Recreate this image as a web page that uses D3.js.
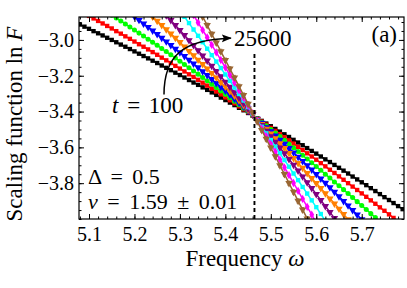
<!DOCTYPE html>
<html>
<head>
<meta charset="utf-8">
<script src="https://cdn.jsdelivr.net/npm/d3@7"></script>
<style>
  body { margin: 0; background: #fff; }
  svg { display: block; font-family: "Liberation Serif", "DejaVu Serif", serif; }
</style>
</head>
<body>
<div id="chart"></div>
<script>
// frequency grid (x values)
var omega = [5.08,5.09,5.10,5.11,5.12,5.13,5.14,5.15,5.16,5.17,5.18,5.19,5.20,5.21,5.22,5.23,5.24,5.25,5.26,5.27,
  5.28,5.29,5.30,5.31,5.32,5.33,5.34,5.35,5.36,5.37,5.38,5.39,5.40,5.41,5.42,5.43,5.44,5.45,5.46,5.47,
  5.48,5.49,5.50,5.51,5.52,5.53,5.54,5.55,5.56,5.57,5.58,5.59,5.60,5.61,5.62,5.63,5.64,5.65,5.66,5.67,
  5.68,5.69,5.70,5.71,5.72,5.73,5.74,5.75,5.76,5.77,5.78,5.79];

var times = [100, 200, 400, 800, 1600, 3200, 6400, 12800, 25600];
// first frequency of each series
var seriesStart = [5.08, 5.10, 5.15, 5.20, 5.24, 5.27, 5.31, 5.33, 5.35];

// ln F values, one array per t
var lnF_100 = [-2.914,-2.926,-2.938,-2.951,-2.963,-2.975,-2.988,-3.000,-3.013,-3.026,
  -3.038,-3.051,-3.064,-3.077,-3.090,-3.103,-3.116,-3.129,-3.143,-3.156,
  -3.169,-3.183,-3.196,-3.210,-3.224,-3.238,-3.251,-3.265,-3.279,-3.293,
  -3.307,-3.322,-3.336,-3.350,-3.364,-3.379,-3.393,-3.408,-3.423,-3.437,
  -3.452,-3.467,-3.482,-3.497,-3.512,-3.527,-3.542,-3.558,-3.573,-3.588,
  -3.604,-3.620,-3.635,-3.651,-3.667,-3.682,-3.698,-3.714,-3.730,-3.746,
  -3.763,-3.779,-3.795,-3.811,-3.828,-3.844,-3.861,-3.878,-3.894,-3.911,-3.928,-3.945];
var lnF_200 = [-2.866,-2.880,-2.894,-2.908,-2.922,-2.936,-2.951,-2.965,-2.980,-2.994,
  -3.009,-3.024,-3.038,-3.053,-3.068,-3.083,-3.099,-3.114,-3.129,-3.145,
  -3.160,-3.176,-3.192,-3.207,-3.223,-3.239,-3.255,-3.272,-3.288,-3.304,
  -3.321,-3.337,-3.354,-3.371,-3.388,-3.404,-3.421,-3.439,-3.456,-3.473,
  -3.491,-3.508,-3.526,-3.543,-3.561,-3.579,-3.597,-3.615,-3.633,-3.651,
  -3.669,-3.688,-3.706,-3.725,-3.743,-3.762,-3.781,-3.800,-3.819,-3.838,
  -3.857,-3.876,-3.896,-3.915,-3.935,-3.954,-3.974,-3.994,-4.014];
var lnF_400 = [-2.862,-2.878,-2.894,-2.911,-2.928,-2.945,-2.962,-2.978,-2.996,-3.013,
  -3.030,-3.048,-3.065,-3.083,-3.101,-3.119,-3.137,-3.155,-3.173,-3.191,
  -3.210,-3.228,-3.247,-3.266,-3.285,-3.304,-3.323,-3.342,-3.362,-3.381,
  -3.400,-3.420,-3.440,-3.460,-3.480,-3.500,-3.520,-3.540,-3.561,-3.581,
  -3.602,-3.623,-3.644,-3.665,-3.686,-3.707,-3.728,-3.750,-3.771,-3.793,
  -3.814,-3.836,-3.858,-3.880,-3.903,-3.925,-3.947,-3.970,-3.992,-4.015];
var lnF_800 = [-2.869,-2.889,-2.909,-2.928,-2.948,-2.968,-2.989,-3.009,-3.029,-3.050,
  -3.070,-3.091,-3.112,-3.133,-3.154,-3.176,-3.197,-3.219,-3.241,-3.262,
  -3.284,-3.306,-3.329,-3.351,-3.373,-3.396,-3.419,-3.441,-3.464,-3.488,
  -3.511,-3.534,-3.558,-3.581,-3.605,-3.629,-3.653,-3.677,-3.701,-3.725,
  -3.750,-3.775,-3.799,-3.824,-3.849,-3.874,-3.900,-3.925,-3.951,-3.976,-4.002];
var lnF_1600 = [-2.871,-2.894,-2.918,-2.941,-2.965,-2.989,-3.013,-3.037,-3.062,-3.086,
  -3.111,-3.135,-3.160,-3.185,-3.210,-3.236,-3.261,-3.287,-3.312,-3.338,
  -3.364,-3.391,-3.417,-3.443,-3.470,-3.497,-3.523,-3.550,-3.578,-3.605,
  -3.632,-3.660,-3.688,-3.715,-3.744,-3.772,-3.800,-3.828,-3.857,-3.886,
  -3.914,-3.943,-3.973,-4.002];
var lnF_3200 = [-2.863,-2.890,-2.918,-2.946,-2.974,-3.002,-3.030,-3.059,-3.088,-3.116,
  -3.145,-3.175,-3.204,-3.234,-3.263,-3.293,-3.323,-3.354,-3.384,-3.415,
  -3.445,-3.476,-3.508,-3.539,-3.570,-3.602,-3.634,-3.666,-3.698,-3.730,
  -3.763,-3.796,-3.828,-3.861,-3.895,-3.928,-3.962,-3.995,-4.029];
var lnF_6400 = [-2.871,-2.906,-2.942,-2.977,-3.013,-3.049,-3.085,-3.121,-3.157,-3.193,
  -3.229,-3.266,-3.302,-3.338,-3.375,-3.412,-3.448,-3.485,-3.522,-3.559,
  -3.596,-3.633,-3.671,-3.708,-3.746,-3.783,-3.821,-3.858,-3.896,-3.934,-3.972,-4.010];
var lnF_12800 = [-2.862,-2.903,-2.945,-2.986,-3.028,-3.070,-3.112,-3.154,-3.196,-3.238,
  -3.281,-3.323,-3.366,-3.409,-3.452,-3.495,-3.538,-3.581,-3.624,-3.668,
  -3.712,-3.755,-3.799,-3.843,-3.888,-3.932,-3.976,-4.021];
var lnF_25600 = [-2.870,-2.918,-2.967,-3.015,-3.064,-3.113,-3.161,-3.210,-3.259,-3.308,
  -3.357,-3.406,-3.455,-3.504,-3.553,-3.602,-3.651,-3.701,-3.750,-3.800,
  -3.849,-3.899,-3.948,-3.998,-4.048];

var lnF = [lnF_100, lnF_200, lnF_400, lnF_800, lnF_1600, lnF_3200, lnF_6400, lnF_12800, lnF_25600];
var errBar = [0.002, 0.003, 0.003, 0.004, 0.005, 0.007, 0.007, 0.008, 0.012];

var xTicks = [5.1, 5.2, 5.3, 5.4, 5.5, 5.6, 5.7];
var yTicks = [-3.8, -3.6, -3.4, -3.2, -3.0];
var omegaC = 5.464;   // crossing point (dashed line)

var colors = ['#000000', '#ff0000', '#00ff00', '#0000ff', '#ff8000', '#800080', '#00ffff', '#ff00ff', '#996633'];
var shapes = ['square', 'square', 'circle', 'triDown', 'triDown', 'triDown', 'square', 'diamond', 'triDown'];

var serif = '"Liberation Serif", "DejaVu Serif", serif';
var width = 407, height = 288;
var svg = d3.select('#chart').append('svg').attr('width', width).attr('height', height)
  .attr('font-family', serif);

var x = d3.scaleLinear().domain([5.078, 5.793]).range([79, 404]);
var y = d3.scaleLinear().domain([-4.0, -2.872]).range([219, 17]);

var defs = svg.append('defs');
defs.append('clipPath').attr('id', 'plot-clip')
  .append('rect').attr('x', 79).attr('y', 17).attr('width', 325).attr('height', 202);

defs.append('marker').attr('id', 'arrowhead')
  .attr('markerUnits', 'userSpaceOnUse')
  .attr('markerWidth', 12).attr('markerHeight', 10)
  .attr('refX', 9).attr('refY', 4).attr('orient', 'auto')
  .append('path').attr('d', 'M0,0 L10,4 L0,8 L2,4 Z').attr('fill', '#000');

// data
var dataLayer = svg.append('g').attr('clip-path', 'url(#plot-clip)');
var line = d3.line().x(function(d) { return x(d.w); }).y(function(d) { return y(d.v); })
  .curve(d3.curveMonotoneX);

function symbolPath(shape) {
  if (shape === 'circle') return d3.symbol(d3.symbolCircle, 20)();
  if (shape === 'diamond') return d3.symbol(d3.symbolDiamond, 20)();
  if (shape === 'triDown') return d3.symbol(d3.symbolTriangle, 24)();
  return d3.symbol(d3.symbolSquare, 19)();
}

lnF.forEach(function(vals, k) {
  var i0 = omega.indexOf(seriesStart[k]);
  var pts = vals.map(function(v, i) { return { w: omega[i0 + i], v: v }; });
  var g = dataLayer.append('g').attr('class', 'series t' + times[k]);

  g.append('path').datum(pts).attr('d', line)
    .attr('fill', 'none').attr('stroke', colors[k]).attr('stroke-width', 1.5);

  var e = errBar[k];
  g.selectAll('path.err').data(pts).enter().append('path')
    .attr('class', 'err')
    .attr('d', function(d) {
      var px = x(d.w), y1 = y(d.v + e), y2 = y(d.v - e);
      return 'M' + (px - 1.5) + ',' + y1 + 'H' + (px + 1.5) +
        'M' + px + ',' + y1 + 'V' + y2 +
        'M' + (px - 1.5) + ',' + y2 + 'H' + (px + 1.5);
    })
    .attr('fill', 'none').attr('stroke', colors[k]).attr('stroke-width', 0.8);

  var sp = symbolPath(shapes[k]);
  g.selectAll('path.mk').data(pts).enter().append('path')
    .attr('class', 'mk')
    .attr('d', sp)
    .attr('transform', function(d) {
      return 'translate(' + x(d.w) + ',' + y(d.v) + ')' + (shapes[k] === 'triDown' ? ' rotate(180)' : '');
    })
    .attr('fill', colors[k]);
});

// dashed line at the crossing frequency
svg.append('line')
  .attr('x1', x(omegaC)).attr('x2', x(omegaC))
  .attr('y1', y(-3.078)).attr('y2', y(-4.0))
  .attr('stroke', '#000').attr('stroke-width', 1.9).attr('stroke-dasharray', '4,3');

// axes with inward ticks on all four sides
function styleAxis(g) {
  g.attr('font-family', serif);
  g.select('.domain').remove();
  g.selectAll('.tick line').attr('stroke', '#000').attr('stroke-width', 1);
  g.selectAll('.tick text').attr('fill', '#000').style('font-size', '20px').style('font-family', serif);
}
var fmt = d3.format('.1f');
var xMinor = d3.range(5.08, 5.795, 0.02);
var yMinor = d3.range(-4.0, -2.87, 0.05);

svg.append('g').attr('transform', 'translate(0,219)')
  .call(d3.axisBottom(x).tickValues(xMinor).tickSize(-2.5).tickFormat('')).call(styleAxis);
svg.append('g').attr('transform', 'translate(0,219)')
  .call(d3.axisBottom(x).tickValues(xTicks).tickSize(-5).tickPadding(8).tickFormat(fmt)).call(styleAxis);
svg.append('g').attr('transform', 'translate(0,17)')
  .call(d3.axisTop(x).tickValues(xMinor).tickSize(-2.5).tickFormat('')).call(styleAxis);
svg.append('g').attr('transform', 'translate(0,17)')
  .call(d3.axisTop(x).tickValues(xTicks).tickSize(-5).tickFormat('')).call(styleAxis);

svg.append('g').attr('transform', 'translate(79,0)')
  .call(d3.axisLeft(y).tickValues(yMinor).tickSize(-2.5).tickFormat('')).call(styleAxis);
svg.append('g').attr('transform', 'translate(79,0)')
  .call(d3.axisLeft(y).tickValues(yTicks).tickSize(-5).tickPadding(5).tickFormat(fmt)).call(styleAxis);
svg.append('g').attr('transform', 'translate(404,0)')
  .call(d3.axisRight(y).tickValues(yMinor).tickSize(-2.5).tickFormat('')).call(styleAxis);
svg.append('g').attr('transform', 'translate(404,0)')
  .call(d3.axisRight(y).tickValues(yTicks).tickSize(-5).tickFormat('')).call(styleAxis);

svg.append('rect').attr('x', 79).attr('y', 17).attr('width', 325).attr('height', 202)
  .attr('fill', 'none').attr('stroke', '#000').attr('stroke-width', 1.2);

// axis titles
var xLab = svg.append('text').attr('x', 245).attr('y', 266).attr('text-anchor', 'middle')
  .style('font-size', '23px');
xLab.append('tspan').text('Frequency ');
xLab.append('tspan').style('font-style', 'italic').text('ω');

var yLab = svg.append('text').attr('transform', 'translate(22,124) rotate(-90)')
  .attr('text-anchor', 'middle').style('font-size', '23px');
yLab.append('tspan').text('Scaling function ln ');
yLab.append('tspan').style('font-style', 'italic').text('F');

// annotations
var tLab = svg.append('text').attr('x', 112).attr('y', 113).style('font-size', '23px')
  .style('word-spacing', '3px');
tLab.append('tspan').style('font-style', 'italic').text('t');
tLab.append('tspan').text(' = ' + times[0]);

svg.append('text').attr('x', 234).attr('y', 46).style('font-size', '23px').text(times[times.length - 1]);
svg.append('text').attr('x', 397).attr('y', 42).attr('text-anchor', 'end').style('font-size', '23px').text('(a)');

svg.append('text').attr('x', 88).attr('y', 184).style('font-size', '22px')
  .style('word-spacing', '4px').text('Δ = 0.5');
var nLab = svg.append('text').attr('x', 88).attr('y', 208.5).style('font-size', '22px')
  .style('word-spacing', '4px');
nLab.append('tspan').style('font-style', 'italic').text('ν');
nLab.append('tspan').text(' = 1.59 ± 0.01');

// curved arrow from t = 100 to 25600
var p0 = [x(5.265), y(-3.305)], p3 = [x(5.412), y(-2.99)];
var arrow = d3.path();
arrow.moveTo(p0[0], p0[1]);
arrow.bezierCurveTo(p0[0], p0[1] - 38, p0[0] + 18, p3[1] + 1, p3[0], p3[1]);
svg.append('path').attr('d', arrow.toString())
  .attr('fill', 'none').attr('stroke', '#000').attr('stroke-width', 1.5)
  .attr('marker-end', 'url(#arrowhead)');
</script>
</body>
</html>
